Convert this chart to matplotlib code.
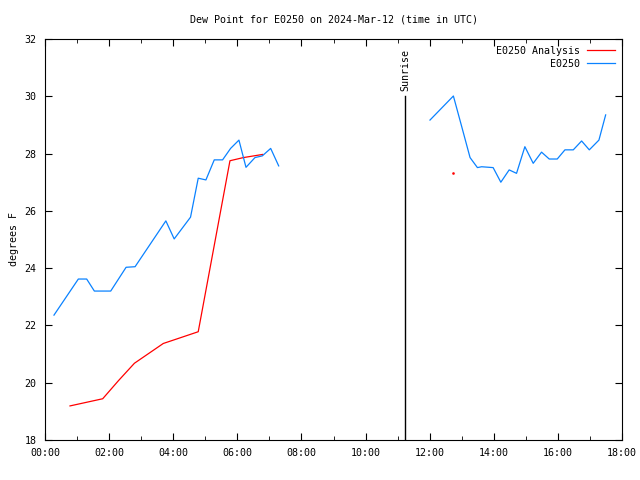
import matplotlib
matplotlib.use("Agg")
import matplotlib.pyplot as plt
from matplotlib.ticker import MultipleLocator, FuncFormatter

# observed dew point (hours UTC, degF)
obs_hours_am = [0.28, 1.04, 1.30, 1.54, 2.05, 2.53, 2.81, 3.77, 4.03, 4.54, 4.78,
                5.02, 5.28, 5.54, 5.79, 6.05, 6.27, 6.55, 6.78, 7.04, 7.29]
obs_dew_am = [22.36, 23.62, 23.62, 23.20, 23.20, 24.03, 24.05, 25.65, 25.02, 25.78, 27.14,
              27.08, 27.78, 27.78, 28.18, 28.47, 27.52, 27.86, 27.92, 28.18, 27.57]
obs_hours_pm = [12.01, 12.74, 13.00, 13.26, 13.49, 13.62, 13.98, 14.22, 14.48, 14.71, 14.97,
                15.23, 15.49, 15.73, 15.98, 16.22, 16.48, 16.74, 16.98, 17.28, 17.49]
obs_dew_pm = [29.17, 30.01, 28.94, 27.86, 27.51, 27.54, 27.51, 27.00, 27.43, 27.31, 28.24,
              27.66, 28.05, 27.81, 27.81, 28.13, 28.13, 28.44, 28.13, 28.47, 29.35]

# analysis
ana_hours = [0.78, 1.80, 2.29, 2.79, 3.69, 4.09, 4.78, 5.77, 6.19, 6.79]
ana_dew = [19.19, 19.44, 20.07, 20.68, 21.37, 21.52, 21.78, 27.75, 27.86, 27.97]
ana_hours_pm = [12.74]
ana_dew_pm = [27.31]

sunrise_hour = 11.23
sunrise_top = 30.0

plt.rcParams['font.family'] = ['DejaVu Sans Mono']
plt.rcParams['font.size'] = 7.2

red = '#ff0000'
blue = '#0a82ff'

fig = plt.figure(figsize=(6.4, 4.8), dpi=100)
ax = fig.add_axes([45 / 640, 40 / 480, 577 / 640, 401 / 480])

ax.plot(ana_hours, ana_dew, color=red, lw=0.9, label='E0250 Analysis')
ax.plot(ana_hours_pm, ana_dew_pm, color=red, marker='s', ms=0.8, lw=0)
ax.plot(obs_hours_am, obs_dew_am, color=blue, lw=0.9, label='E0250')
ax.plot(obs_hours_pm, obs_dew_pm, color=blue, lw=0.9)

ax.plot([sunrise_hour, sunrise_hour], [18, sunrise_top], color='black', lw=1.0)
ax.text(sunrise_hour, sunrise_top + 0.2, 'Sunrise', rotation=90, ha='center', va='bottom')

ax.set_xlim(0, 18)
ax.set_ylim(18, 32)
ax.xaxis.set_major_locator(MultipleLocator(2))
ax.xaxis.set_minor_locator(MultipleLocator(1))
ax.yaxis.set_major_locator(MultipleLocator(2))
ax.xaxis.set_major_formatter(FuncFormatter(lambda v, p: f"{int(v):02d}:00"))
ax.tick_params(which='both', direction='in', top=True, right=True)
ax.tick_params(which='major', length=5, pad=6)
ax.tick_params(which='minor', length=3)

ax.set_title('Dew Point for E0250 on 2024-Mar-12 (time in UTC)', fontsize=7.2, pad=12)
ax.set_ylabel('degrees F', labelpad=4)

handles, labels = ax.get_legend_handles_labels()
ax.legend(handles, labels, loc='upper right', frameon=False, markerfirst=False,
          handlelength=2.8, handletextpad=0.7, borderaxespad=0.3, labelspacing=0.3)

fig.savefig('out.png', dpi=100)
